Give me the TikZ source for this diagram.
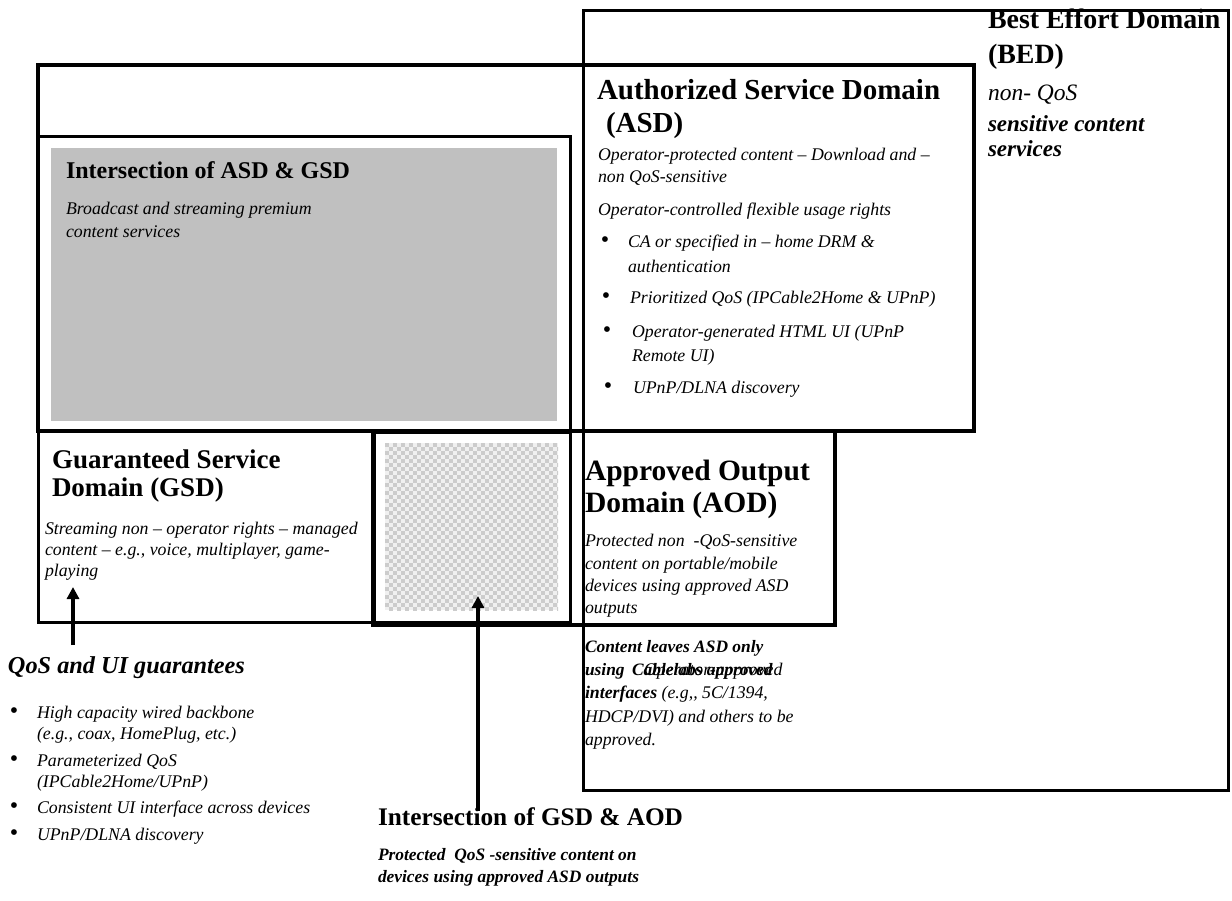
\documentclass[tikz,border=0pt]{standalone}
\usepackage{fontspec}
\setmainfont{Liberation Serif}
\usetikzlibrary{arrows.meta}
\definecolor{panelgray}{RGB}{192,192,192}
\definecolor{checkgray}{RGB}{204,204,204}
\definecolor{checklight}{RGB}{240,240,240}

\begin{document}
\begin{tikzpicture}[x=1pt,y=-1pt,
  txt/.style={anchor=base west, inner sep=0pt, outer sep=0pt},
  hdbed/.style={txt, font=\fontsize{27.9}{30}\selectfont\bfseries},
  hdasd/.style={txt, font=\fontsize{29}{31}\selectfont\bfseries},
  hdgsd/.style={txt, font=\fontsize{27}{29}\selectfont\bfseries},
  hdaod/.style={txt, font=\fontsize{29.5}{31}\selectfont\bfseries},
  hdmid/.style={txt, font=\fontsize{24}{26}\selectfont\bfseries},
  hdlow/.style={txt, font=\fontsize{25.3}{27}\selectfont\bfseries},
  hdqos/.style={txt, font=\fontsize{24.3}{26}\selectfont\bfseries\itshape},
  body/.style={txt, font=\fontsize{17.8}{20}\selectfont\itshape},
  heavy/.style={txt, font=\fontsize{17.4}{20}\selectfont\bfseries\itshape},
  bedbody/.style={txt, font=\fontsize{23.5}{26}\selectfont\itshape},
  bedheavy/.style={txt, font=\fontsize{23}{26}\selectfont\bfseries\itshape},
  dot/.style={anchor=base, inner sep=0pt, outer sep=0pt, font=\fontsize{24}{26}\selectfont},
  domainthick/.style={draw=black, line width=4pt},
  domainmid/.style={draw=black, line width=3pt},
  pointer/.style={draw=black, line width=3.5pt, -{Triangle[length=12pt,width=12pt]}}
]
\useasboundingbox (0,0) rectangle (1232,900);
\fill[white] (0,0) rectangle (1232,900);

% shaded overlap of ASD and GSD
\fill[panelgray] (51,148) rectangle (557,421);

% overlap of GSD and AOD: white frame with a checkered fill
\fill[white] (375,433) rectangle (570,622);
\fill[checklight] (385,443) rectangle (558,610);
\begin{scope}
  \clip (385,443) rectangle (558,610);
  \foreach \r in {0,...,41} {
    \pgfmathsetmacro\off{mod(\r,2)*4}
    \foreach \c in {0,8,...,176} {
      \fill[checkgray] (385+\c+\off, 443+4*\r) rectangle ++(4,4);
    }
  }
\end{scope}

% domain outlines
\draw[domainmid] (583,10) rectangle (1228,790);      % BED
\draw[domainthick] (38,65) rectangle (974,431);      % ASD
\draw[domainmid] (38,136) rectangle (570,622);       % GSD
\draw[black, line width=1.2pt] (375,433) rectangle (570,622);
\draw[domainthick] (373,431) rectangle (835,625);    % AOD

% Best Effort Domain
\node[hdbed] (bedA) at (988,28) {Best Effort Domain};
\node[hdbed] (bedB) at (988,63) {(BED)};
\node[bedbody] (bedC) at (988,100) {non- QoS};
\node[bedheavy] (bedD) at (988,131) {sensitive content};
\node[bedheavy] (bedE) at (988,156) {services};

% Authorized Service Domain
\node[hdasd] (asdA) at (597,99) {Authorized Service Domain};
\node[hdasd] (asdB) at (606,132) {(ASD)};
\node[body] (asdC) at (598,160) {Operator-protected content -- Download and --};
\node[body] (asdD) at (598,182) {non QoS-sensitive};
\node[body] (asdE) at (598,215) {Operator-controlled flexible usage rights};
\node[dot] (asdd1) at (605,247) {•};
\node[body] (asdF) at (628,247) {CA or specified in -- home DRM \&};
\node[body] (asdG) at (628,272) {authentication};
\node[dot] (asdd2) at (606,303) {•};
\node[body] (asdH) at (630,303) {Prioritized QoS (IPCable2Home \& UPnP)};
\node[dot] (asdd3) at (607,337) {•};
\node[body] (asdI) at (632,337) {Operator-generated HTML UI (UPnP};
\node[body] (asdJ) at (632,361) {Remote UI)};
\node[dot] (asdd4) at (608,393) {•};
\node[body] (asdK) at (633,393) {UPnP/DLNA discovery};

% Intersection of ASD and GSD
\node[hdmid] (agA) at (66,178) {Intersection of ASD \& GSD};
\node[body] (agB) at (66,214) {Broadcast and streaming premium};
\node[body] (agC) at (66,237) {content services};

% Guaranteed Service Domain
\node[hdgsd] (gsdA) at (52,468) {Guaranteed Service};
\node[hdgsd] (gsdB) at (52,496) {Domain (GSD)};
\node[body] (gsdC) at (45,534) {Streaming non -- operator rights -- managed};
\node[body] (gsdD) at (45,555) {content -- e.g., voice, multiplayer, game-};
\node[body] (gsdE) at (45,576) {playing};

% Approved Output Domain
\node[hdaod] (aodA) at (585,480) {Approved Output};
\node[hdaod] (aodB) at (585,512) {Domain (AOD)};
\node[body] (aodC) at (585,546) {Protected non\ \ -QoS-sensitive};
\node[body] (aodD) at (585,569) {content on portable/mobile};
\node[body] (aodE) at (585,591) {devices using approved ASD};
\node[body] (aodF) at (585,613) {outputs};

% output rules below the AOD
\node[heavy] (outA) at (585,652) {Content leaves ASD only};
\node[heavy] (outB) at (585,675) {using};
\node[heavy] (outC) at (632,675) {Cablelabs approved};
\node[body] (outD) at (644,675) {Operator-approved};
\node[body] (outE) at (585,698) {{\bfseries interfaces} (e.g,\kern0pt, 5C/1394,};
\node[body] (outF) at (585,722) {HDCP/DVI) and others to be};
\node[body] (outG) at (585,745) {approved.};

% QoS and UI guarantees
\node[hdqos] (qosA) at (8,673) {QoS and UI guarantees};
\node[dot] (qd1) at (14,718) {•};
\node[body] (qosB) at (37,718) {High capacity wired backbone};
\node[body] (qosC) at (37,739) {(e.g., coax, HomePlug, etc.)};
\node[dot] (qd2) at (14,766) {•};
\node[body] (qosD) at (37,766) {Parameterized QoS};
\node[body] (qosE) at (37,787) {(IPCable2Home/UPnP)};
\node[dot] (qd3) at (14,813) {•};
\node[body] (qosF) at (37,813) {Consistent UI interface across devices};
\node[dot] (qd4) at (14,840) {•};
\node[body] (qosG) at (37,840) {UPnP/DLNA discovery};

% Intersection of GSD and AOD
\node[hdlow] (gaA) at (378,825) {Intersection of GSD \& AOD};
\node[heavy] (gaB) at (378,860) {Protected\ \ QoS -sensitive content on};
\node[heavy] (gaC) at (378,882) {devices using approved ASD outputs};

% pointers
\coordinate (p1from) at (73,645);
\coordinate (p1to) at (73,587);
\draw[pointer] (p1from) -- (p1to);
\coordinate (p2from) at (478,811);
\coordinate (p2to) at (478,596);
\draw[pointer] (p2from) -- (p2to);
\end{tikzpicture}
\end{document}
